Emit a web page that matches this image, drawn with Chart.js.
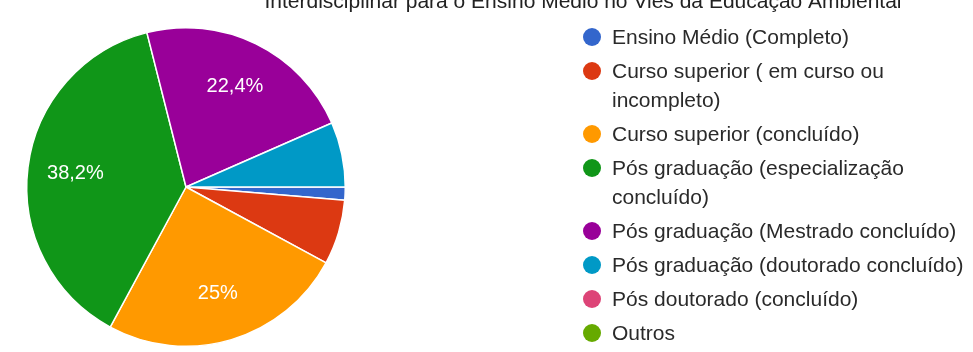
<!DOCTYPE html>
<html lang="pt-br">
<head>
<meta charset="UTF-8">
<title>Escolaridade</title>
<script src="https://cdn.jsdelivr.net/npm/chart.js"></script>
<style>
    body { margin: 0; background: #fff; }
    .box { width: 973px; height: 352px; position: relative; }
</style>
</head>
<body>
<div class="box">
    <canvas id="pizza"></canvas>
</div>

<script>
    // dados (76 respostas)
    const categorias = [
        'Ensino Médio (Completo)',
        ['Curso superior ( em curso ou', 'incompleto)'],
        'Curso superior (concluído)',
        ['Pós graduação (especialização', 'concluído)'],
        'Pós graduação (Mestrado concluído)',
        'Pós graduação (doutorado concluído)',
        'Pós doutorado (concluído)',
        'Outros'
    ];
    const respostas = [1, 5, 19, 29, 17, 5, 0, 0];
    const cores = ['#3366cc', '#dc3912', '#ff9900', '#109618', '#990099', '#0099c6', '#dd4477', '#66aa00'];
    const titulo = 'Interdisciplinar para o Ensino Médio no Viés da Educação Ambiental';

    const fonte = '"Liberation Sans", Arial, sans-serif';

    function porcento(v) {
        let total = respostas.reduce((a, b) => a + b, 0);
        let p = Math.round(v / total * 1000) / 10;
        return String(p).replace('.', ',') + '%';
    }

    // titulo cortado no topo, rotulos dentro das fatias e legenda a direita
    const desenhos = {
        id: 'desenhos',
        afterDraw(chart) {
            const ctx = chart.ctx;
            ctx.save();

            ctx.fillStyle = '#222';
            ctx.font = '21px ' + fonte;
            ctx.textAlign = 'center';
            ctx.textBaseline = 'alphabetic';
            ctx.fillText(titulo, 583, 8);

            // rotulos
            const arcos = chart.getDatasetMeta(0).data;
            const total = respostas.reduce((a, b) => a + b, 0);
            ctx.fillStyle = '#fff';
            ctx.font = '20px ' + fonte;
            ctx.textBaseline = 'middle';
            arcos.forEach((arc, i) => {
                const v = respostas[i];
                if (v / total < 0.1) return;
                const meio = (arc.startAngle + arc.endAngle) / 2;
                const r = arc.outerRadius * 0.7;
                ctx.fillText(porcento(v), arc.x + Math.cos(meio) * r, arc.y + Math.sin(meio) * r);
            });

            // legenda
            ctx.textAlign = 'left';
            ctx.font = '21px ' + fonte;
            let y = 37;
            categorias.forEach((cat, i) => {
                const linhas = Array.isArray(cat) ? cat : [cat];
                ctx.fillStyle = cores[i];
                ctx.beginPath();
                ctx.arc(592, y, 9, 0, Math.PI * 2);
                ctx.fill();
                ctx.fillStyle = '#2a2a2a';
                linhas.forEach((l, k) => {
                    ctx.fillText(l, 612, y + 1 + k * 29);
                });
                y += 34 + (linhas.length - 1) * 29;
            });

            ctx.restore();
        }
    };

    new Chart(document.getElementById('pizza'), {
        type: 'pie',
        data: {
            labels: categorias.map(c => Array.isArray(c) ? c.join(' ') : c),
            datasets: [{
                data: respostas,
                backgroundColor: cores,
                borderColor: '#fff',
                borderWidth: 1.5
            }]
        },
        options: {
            responsive: true,
            maintainAspectRatio: false,
            animation: false,
            rotation: 90,
            layout: {
                padding: { left: 26, top: 27, right: 627, bottom: 5 }
            },
            plugins: {
                legend: { display: false },
                tooltip: { enabled: false }
            }
        },
        plugins: [desenhos]
    });
</script>
</body>
</html>
